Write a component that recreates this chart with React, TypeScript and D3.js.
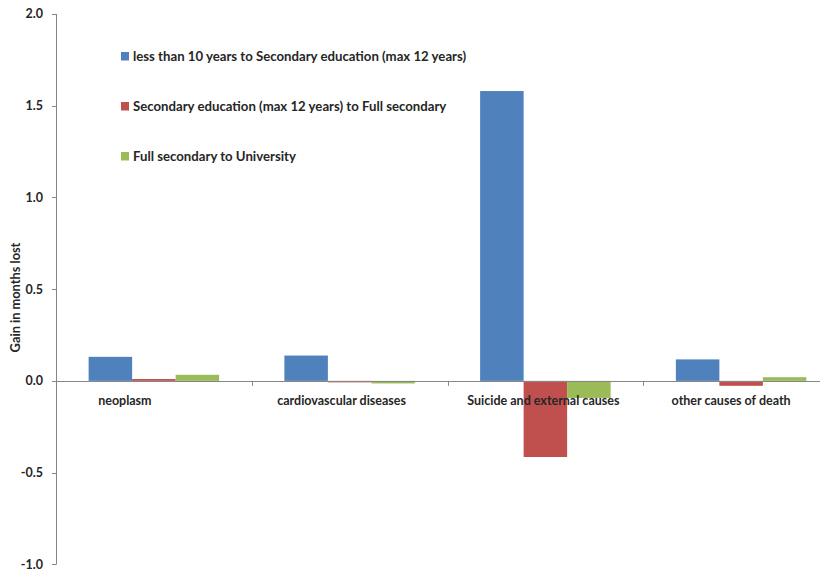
import React from "react";
import * as d3 from "d3";

// Gain in months of life lost, by cause of death and education transition
const categories = [
  "neoplasm",
  "cardiovascular diseases",
  "Suicide and external causes",
  "other causes of death",
];
const seriesNames = [
  "less than 10 years to Secondary education (max 12 years)",
  "Secondary education (max 12 years) to Full secondary",
  "Full secondary to University",
];
const lessThan10ToSecondary = [0.131, 0.138, 1.58, 0.117];
const secondaryToFullSecondary = [0.01, -0.008, -0.415, -0.027];
const fullSecondaryToUniversity = [0.033, -0.014, -0.093, 0.02];
const yTicks = [-1.0, -0.5, 0.0, 0.5, 1.0, 1.5, 2.0];
const colors = ["#4F81BD", "#C0504D", "#9BBB59"];
// small horizontal nudges for the category labels
const labelShift = [-29, -8, -2, -10];

const series = [lessThan10ToSecondary, secondaryToFullSecondary, fullSecondaryToUniversity];

const W = 824;
const H = 570;
const FONT = "Lato, 'Open Sans', sans-serif";

export default function App() {
  const y = d3.scaleLinear().domain([-1, 2]).range([564.3, 14]);
  const x0 = d3.scaleBand<string>().domain(categories).range([56, 839]).paddingInner(0).paddingOuter(0);
  const x1 = d3
    .scaleBand<number>()
    .domain([0, 1, 2])
    .range([0, x0.bandwidth()])
    .paddingInner(0)
    .paddingOuter(0.75);
  const zeroY = y(0);

  return (
    <div style={{ position: "absolute", left: 0, top: 0, width: W, height: H, background: "#fff" }}>
      <svg width={W} height={H} style={{ display: "block", fontFamily: FONT }}>
        <rect width={W} height={H} fill="#fff" />

        {/* bars */}
        {series.map((vals, si) =>
          vals.map((v, ci) => {
            const bx = x0(categories[ci])! + x1(si)!;
            const top = Math.min(y(v), zeroY);
            const h = Math.abs(y(v) - zeroY);
            return (
              <rect
                key={`${si}-${ci}`}
                x={bx}
                y={top}
                width={x1.bandwidth()}
                height={h}
                fill={colors[si]}
              />
            );
          })
        )}

        {/* y axis */}
        <line x1={56.5} x2={56.5} y1={y(2)} y2={y(-1)} stroke="#868686" strokeWidth={1} />
        {yTicks.map((t) => (
          <g key={t}>
            <line x1={52} x2={56.5} y1={Math.round(y(t)) + 0.5} y2={Math.round(y(t)) + 0.5} stroke="#868686" />
            <text
              x={43}
              y={y(t)}
              dy="0.35em"
              textAnchor="end"
              fontSize={12.5}
              fontWeight="bold"
              fill="#262626"
            >
              {t.toFixed(1)}
            </text>
          </g>
        ))}

        {/* x axis at zero */}
        <line x1={56} x2={820} y1={Math.round(zeroY) + 0.5} y2={Math.round(zeroY) + 0.5} stroke="#868686" />
        {categories.slice(1).map((c) => (
          <line
            key={c}
            x1={Math.round(x0(c)!) + 0.5}
            x2={Math.round(x0(c)!) + 0.5}
            y1={zeroY}
            y2={zeroY + 5}
            stroke="#868686"
          />
        ))}
        {categories.map((c, i) => (
          <text
            key={c}
            x={x0(c)! + x0.bandwidth() / 2 + labelShift[i]}
            y={405}
            textAnchor="middle"
            fontSize={12.5}
            fontWeight="bold"
            fill="#262626"
          >
            {c}
          </text>
        ))}

        {/* y axis title */}
        <text
          transform="translate(20,297.5) rotate(-90)"
          textAnchor="middle"
          fontSize={12.8}
          fontWeight="bold"
          fill="#262626"
        >
          Gain in months lost
        </text>

        {/* legend */}
        {seriesNames.map((name, i) => (
          <g key={name} transform={`translate(121,${52 + i * 50})`}>
            <rect width={8} height={8.5} fill={colors[i]} />
            <text x={12} y={4.5} dy="0.35em" fontSize={13.2} fontWeight="bold" fill="#262626">
              {name}
            </text>
          </g>
        ))}
      </svg>
    </div>
  );
}
